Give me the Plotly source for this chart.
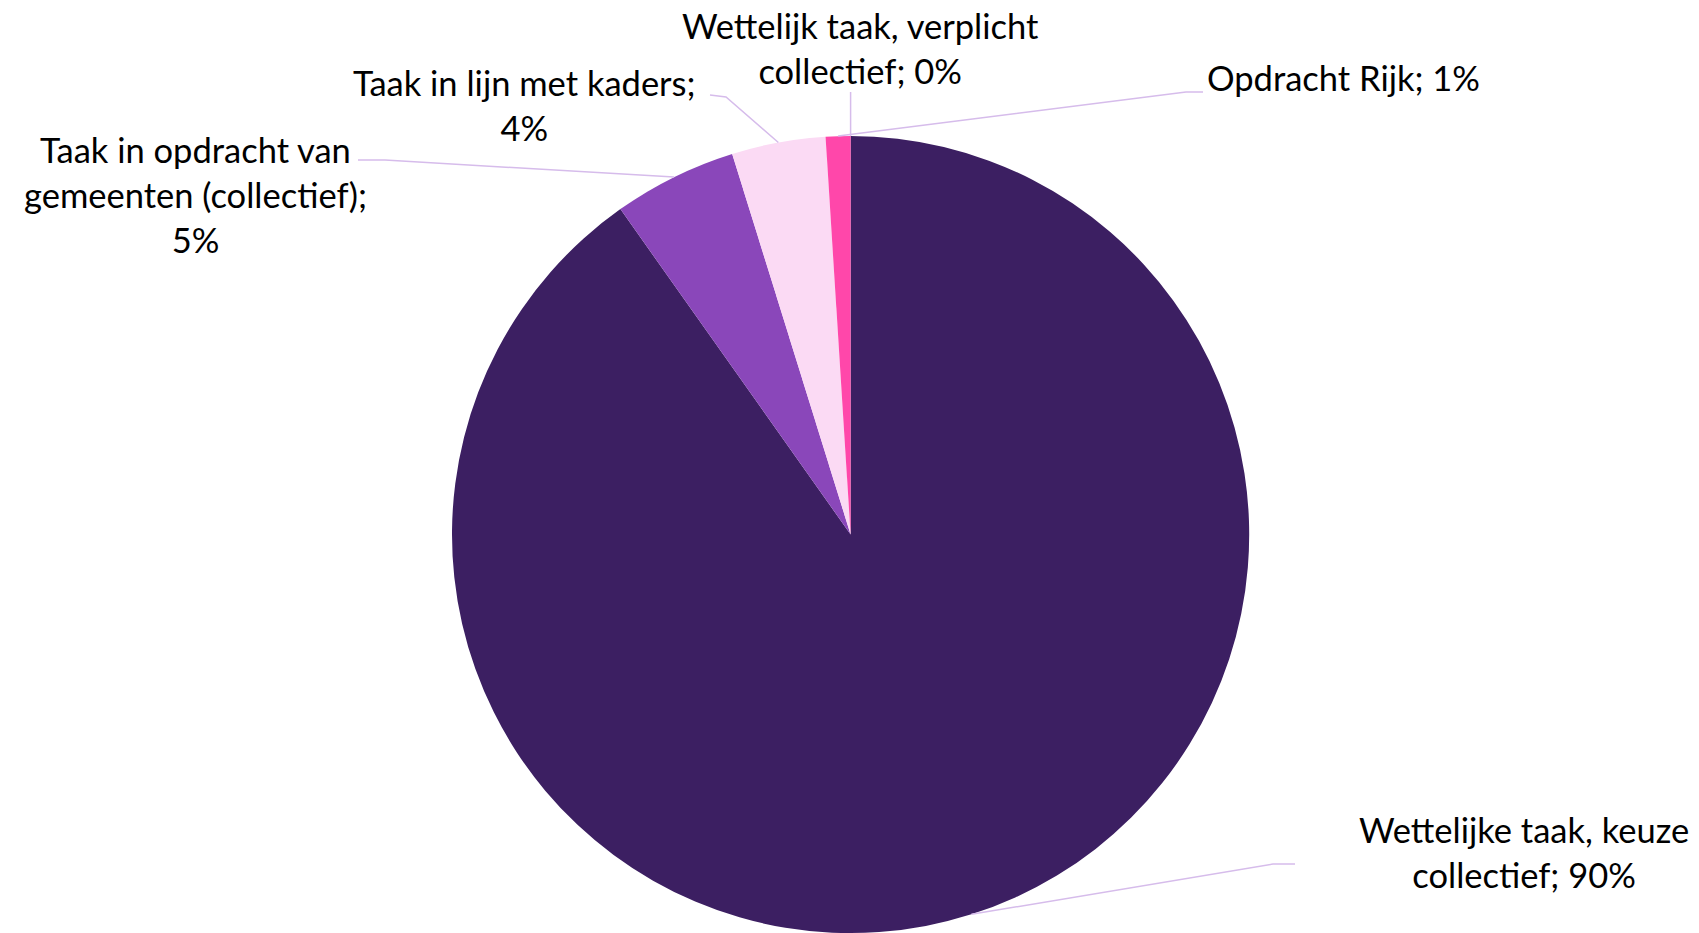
import math
import plotly.graph_objects as go

# ---- data ----
labels = [
    "Wettelijke taak, keuze collectief",
    "Taak in opdracht van gemeenten (collectief)",
    "Taak in lijn met kaders",
    "Opdracht Rijk",
    "Wettelijk taak, verplicht collectief",
]
values = [90.2, 5.0, 3.8, 1.0, 0.0]
label_texts = [
    "Wettelijke taak, keuze<br>collectief; 90%",
    "Taak in opdracht van<br>gemeenten (collectief);<br>5%",
    "Taak in lijn met kaders;<br>4%",
    "Opdracht Rijk; 1%",
    "Wettelijk taak, verplicht<br>collectief; 0%",
]
colors = ["#3C1F62", "#8A47BA", "#FBDAF4", "#FF47AA", "#C9A6E3"]

# ---- layout constants (screen pixels) ----
W, H = 1699, 933
OFF = 8  # page body margin
CX, CY, R = 850.6, 534.5, 398.6
label_pos = [(1524, 852), (195, 194), (524, 105), (1343, 77), (861, 48)]
elbows = [((1273, 864), (1295, 864)),
          ((385, 160), (358, 160)),
          ((726, 97), (710, 95)),
          ((1186, 92), (1203, 92)),
          ((850.6, 92), (850.6, 92))]

def px(x):
    return (x - OFF) / W

def py(y):
    return 1 - (y - OFF) / H

fig = go.Figure()
fig.add_trace(go.Pie(
    labels=labels, values=values, sort=False, direction="clockwise",
    rotation=0, textinfo="none", hoverinfo="label+percent",
    marker=dict(colors=colors, line=dict(width=0)),
    domain=dict(x=[px(CX - R), px(CX + R)], y=[py(CY + R), py(CY - R)]),
    showlegend=False,
))

total = sum(values)
cum = 0.0
shapes = []
annotations = []
for i, v in enumerate(values):
    mid = (cum + v / 2) / total * 2 * math.pi
    cum += v
    ax = CX + R * math.sin(mid)
    ay = CY - R * math.cos(mid)
    (ex, ey), (fx, fy) = elbows[i]
    path = f"M {px(ax)},{py(ay)} L {px(ex)},{py(ey)} L {px(fx)},{py(fy)}"
    shapes.append(dict(type="path", xref="paper", yref="paper", path=path,
                       line=dict(color="#D6BCEB", width=1.5)))
    lx, ly = label_pos[i]
    annotations.append(dict(x=px(lx), y=py(ly), xref="paper", yref="paper",
                            text=label_texts[i], showarrow=False,
                            xanchor="center", yanchor="middle", align="center",
                            font=dict(family="Lato", size=34.5, color="#000000")))

fig.update_layout(
    width=W, height=H, margin=dict(l=0, r=0, t=0, b=0),
    paper_bgcolor="white", plot_bgcolor="white",
    shapes=shapes, annotations=annotations,
)
fig.write_html("out.html")
